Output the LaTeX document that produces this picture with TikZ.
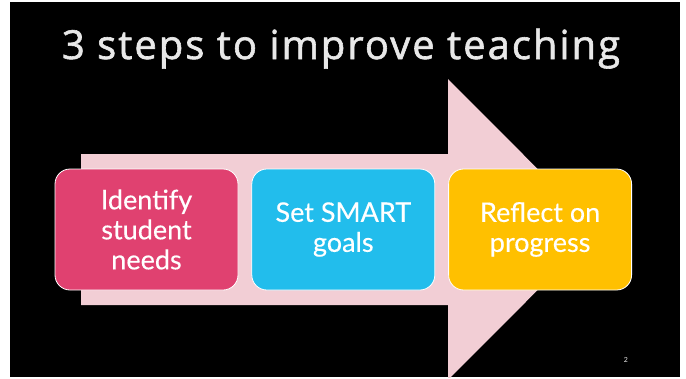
\documentclass[tikz,border=0pt]{standalone}
\usepackage{fontspec}
\setmainfont{Lato}
\newfontfamily\titlefont[FakeBold=1.5, LetterSpace=5]{Open Sans}
\newfontfamily\stepfont[FakeBold=0.3]{Lato}
\usetikzlibrary{positioning}

\definecolor{arrowpink}{HTML}{F2CED5}
\definecolor{needsred}{HTML}{E04170}
\definecolor{goalsblue}{HTML}{22BDEC}
\definecolor{progressgold}{HTML}{FFC000}
\definecolor{titlegray}{HTML}{E8E8E8}

\def \boxWidth {183pt}
\def \boxHeight {121pt}

\tikzset{
  stepbox/.style={draw=white, line width=0.8pt, rounded corners=15pt,
    minimum width=\boxWidth, minimum height=\boxHeight, inner sep=0pt,
    align=center, text=white, font=\stepfont\fontsize{27}{30}\selectfont},
}

\begin{document}
\begin{tikzpicture}[x=1pt, y=-1pt]
      \useasboundingbox (0,0) rectangle (686,378);
      \fill[black] (10,2) rectangle (680,377);
      % big arrow behind the steps
      \begin{scope}
         \clip (10,2) rectangle (680,377);
         \fill[arrowpink] (81,154) -- (448,154) -- (448,79) -- (598,229.5)
            -- (448,380) -- (448,305) -- (81,305) -- cycle;
      \end{scope}
      \node[anchor=base, text=titlegray, font=\titlefont\fontsize{40}{42}\selectfont]
         (title) at (341,59) {3 steps to improve teaching};
      \node[stepbox, fill=needsred] (needs) at (146.5,229.5) {Identify\\student\\needs};
      \node[stepbox, fill=goalsblue, right=13pt of needs] (goals) {Set SMART\\goals};
      \node[stepbox, fill=progressgold, right=13pt of goals] (progress) {Reflect on\\progress};
      \node[text=titlegray, font=\fontsize{7}{8}\selectfont] (page) at (626,360) {2};
   \end{tikzpicture}
\end{document}
